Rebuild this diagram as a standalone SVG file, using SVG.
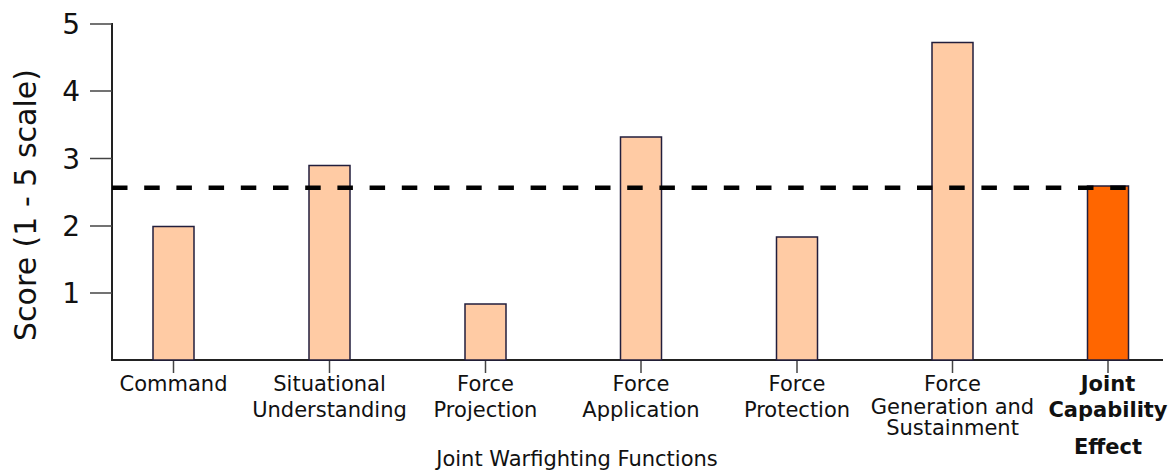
<svg xmlns="http://www.w3.org/2000/svg" width="1176" height="471" viewBox="0 0 1176 471">
<style>
.axis{stroke:#222;stroke-width:2;fill:none}
.tick{stroke:#444;stroke-width:1.5}
.ylab{font-family:"DejaVu Sans",Verdana,sans-serif;font-size:28px;fill:#111;text-anchor:end}
.cat{font-family:"DejaVu Sans",Verdana,sans-serif;font-size:21px;fill:#111;text-anchor:middle}
.catb{font-family:"DejaVu Sans",Verdana,sans-serif;font-size:21px;font-weight:bold;fill:#111;text-anchor:middle}
.title{font-family:"DejaVu Sans",Verdana,sans-serif;font-size:21px;fill:#111;text-anchor:middle}
.bar{fill:#FFCBA4;stroke:#221E3C;stroke-width:1.5}
.barj{fill:#FF6600;stroke:#221E3C;stroke-width:1.5}
</style>
<rect width="1176" height="471" fill="#fff"/>
<g id="axes">
<line class="axis" x1="112" y1="23" x2="112" y2="360"/>
<line class="axis" x1="111" y1="360" x2="1163" y2="360"/>
<line class="tick" x1="90" y1="24" x2="112" y2="24"/>
<line class="tick" x1="90" y1="91" x2="112" y2="91"/>
<line class="tick" x1="90" y1="158.5" x2="112" y2="158.5"/>
<line class="tick" x1="90" y1="226" x2="112" y2="226"/>
<line class="tick" x1="90" y1="293" x2="112" y2="293"/>
<text class="ylab" x="80" y="34">5</text>
<text class="ylab" x="80" y="101">4</text>
<text class="ylab" x="80" y="168.5">3</text>
<text class="ylab" x="80" y="236">2</text>
<text class="ylab" x="80" y="303">1</text>
<text font-family="DejaVu Sans,Verdana,sans-serif" font-size="30" fill="#111" text-anchor="middle" transform="translate(36,205) rotate(-90)">Score (1 - 5 scale)</text>
<line class="tick" x1="173.5" y1="361" x2="173.5" y2="373"/>
<line class="tick" x1="329.5" y1="361" x2="329.5" y2="373"/>
<line class="tick" x1="485.5" y1="361" x2="485.5" y2="373"/>
<line class="tick" x1="641" y1="361" x2="641" y2="373"/>
<line class="tick" x1="797" y1="361" x2="797" y2="373"/>
<line class="tick" x1="952.5" y1="361" x2="952.5" y2="373"/>
<line class="tick" x1="1108" y1="361" x2="1108" y2="373"/>
<text class="title" x="577" y="466">Joint Warfighting Functions</text>
</g>
<g id="command"><rect class="bar" x="153" y="226.5" width="41" height="133.5"/><text class="cat" x="173.5" y="391">Command</text></g>
<g id="situational"><rect class="bar" x="309" y="165.5" width="41" height="194.5"/><text class="cat" x="329.5" y="391">Situational</text><text class="cat" x="329.5" y="417">Understanding</text></g>
<g id="projection"><rect class="bar" x="465" y="304" width="41" height="56"/><text class="cat" x="485.5" y="391">Force</text><text class="cat" x="485.5" y="417">Projection</text></g>
<g id="application"><rect class="bar" x="620.5" y="137" width="41" height="223"/><text class="cat" x="641" y="391">Force</text><text class="cat" x="641" y="417">Application</text></g>
<g id="protection"><rect class="bar" x="776.5" y="237" width="41" height="123"/><text class="cat" x="797" y="391">Force</text><text class="cat" x="797" y="417">Protection</text></g>
<g id="generation"><rect class="bar" x="932" y="42.5" width="41" height="317.5"/><text class="cat" x="952.5" y="391">Force</text><text class="cat" x="952.5" y="414">Generation and</text><text class="cat" x="952.5" y="435">Sustainment</text></g>
<g id="jce"><rect class="barj" x="1087.5" y="186" width="41" height="174"/><text class="catb" x="1108" y="391">Joint</text><text class="catb" x="1108" y="417">Capability</text><text class="catb" x="1108" y="454">Effect</text></g>
<g id="connectors">
<line x1="112" y1="187.7" x2="1127" y2="187.7" stroke="#000" stroke-width="4.5" stroke-dasharray="15.5 16.7"/>
</g>
</svg>
